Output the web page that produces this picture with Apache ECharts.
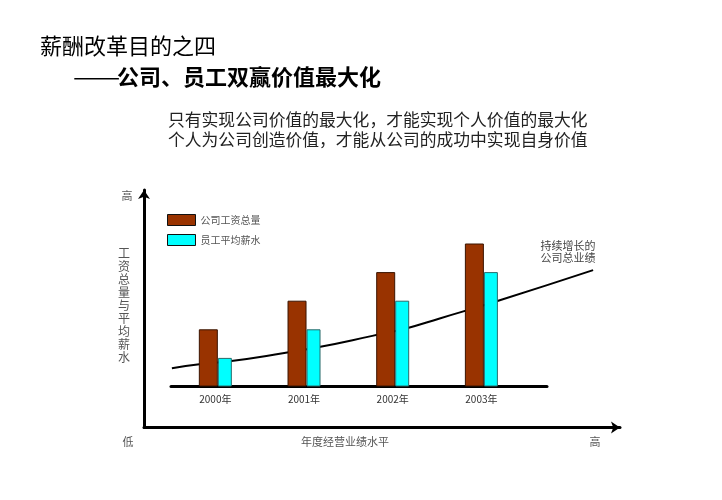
<!DOCTYPE html>
<html><head><meta charset="utf-8">
<script src="https://cdn.jsdelivr.net/npm/echarts@6/dist/echarts.min.js"></script>
<style>html,body{margin:0;padding:0;background:#fff}#c{width:722px;height:500px}</style>
</head><body><div id="c"></div>
<script>
// ---- data ----
const years = [2000, 2001, 2002, 2003];
const yearLabels = ['2000年', '2001年', '2002年', '2003年'];
const seriesNames = ['公司工资总量', '员工平均薪水'];
const totalPay = [2, 3, 4, 5];
const avgPay = [1, 2, 3, 4];
const perfX = [1999.51, 1999.82, 2000.18, 2000.76, 2001.14, 2001.77, 2002.15, 2002.53, 2003.19, 2004.26];
const perfY = [0.64, 0.78, 0.89, 1.16, 1.36, 1.77, 2.03, 2.38, 3.0, 4.07];

const FF = '"Noto Sans CJK SC", "Noto Sans", sans-serif';
const chart = echarts.init(document.getElementById('c'), null, {renderer: 'canvas'});

// inner plot: x 1999.5..2003.74 over 171..547 px, y 0..7 over 386.5..186.3 px
const PX_PER_YEAR = 376 / 4.24;
const PX_PER_UNIT = 200.2 / 7;
const outerXMin = 1999.5 - 27 / PX_PER_YEAR;
const outerXMax = 1999.5 + 449 / PX_PER_YEAR;
const outerYMin = -41 / PX_PER_UNIT;
const outerYMax = 196.5 / PX_PER_UNIT;

function txt(text, x, y, size, color, opts) {
  opts = opts || {};
  return {
    type: 'text', x: x, y: y, silent: true,
    scaleX: opts.scaleX || 1,
    style: {
      text: text, fill: color,
      font: (opts.weight || 'normal') + ' ' + size + 'px ' + FF,
      align: opts.align || 'left', verticalAlign: 'middle',
      lineHeight: opts.lineHeight
    }
  };
}

const option = {
  backgroundColor: '#fff',
  animation: false,
  legend: {
    orient: 'vertical', left: 167, top: 214, padding: 0,
    itemWidth: 28, itemHeight: 11, itemGap: 8, icon: 'rect',
    itemStyle: {borderColor: '#111', borderWidth: 1},
    textStyle: {fontSize: 10, color: '#555', fontFamily: FF},
    data: seriesNames
  },
  grid: [
    {left: 171, right: 175, top: 186.3, bottom: 113.5},
    {left: 144, right: 102, top: 190, bottom: 72.5}
  ],
  xAxis: [
    {gridIndex: 0, type: 'value', min: 1999.5, max: 2003.74,
      axisLine: {show: true, onZero: false, lineStyle: {color: '#000', width: 3}},
      axisTick: {show: false}, splitLine: {show: false},
      axisLabel: {customValues: years, formatter: v => yearLabels[years.indexOf(v)], fontSize: 10, color: '#333', margin: 8, fontFamily: FF}
    },
    {gridIndex: 1, type: 'value', min: outerXMin, max: outerXMax,
      axisLine: {show: true, onZero: false, symbol: ['none', 'arrow'], symbolSize: [9, 9], lineStyle: {color: '#000', width: 3}},
      axisTick: {show: false}, axisLabel: {show: false}, splitLine: {show: false}
    }
  ],
  yAxis: [
    {gridIndex: 0, type: 'value', min: 0, max: 7, show: false, splitLine: {show: false}},
    {gridIndex: 1, type: 'value', min: outerYMin, max: outerYMax,
      axisLine: {show: true, onZero: false, symbol: ['none', 'arrow'], symbolSize: [9, 9], lineStyle: {color: '#000', width: 3}},
      axisTick: {show: false}, axisLabel: {show: false}, splitLine: {show: false}
    }
  ],
  series: [
    {type: 'line', xAxisIndex: 1, yAxisIndex: 1, z: 1, silent: true,
      smooth: true, symbol: 'none', lineStyle: {color: '#000', width: 2},
      data: perfX.map((x, i) => [x, perfY[i]])},
    {type: 'bar', name: seriesNames[0], xAxisIndex: 0, yAxisIndex: 0, z: 3,
      barWidth: 19, barGap: '0%',
      itemStyle: {color: '#993300', borderColor: '#3a1400', borderWidth: 1},
      data: years.map((y, i) => [y, totalPay[i]])},
    {type: 'bar', name: seriesNames[1], xAxisIndex: 0, yAxisIndex: 0, z: 3,
      barWidth: 14, barGap: '0%',
      itemStyle: {color: '#00FFFF', borderColor: '#2a6a6a', borderWidth: 1},
      data: years.map((y, i) => [y, avgPay[i]])}
  ],
  graphic: [
    txt('薪酬改革目的之四', 40, 46, 22, '#000'),
    txt('——', 73, 77, 22, '#000', {scaleX: 1.28}),
    txt('公司、员工双赢价值最大化', 117, 77, 22, '#000', {weight: 'bold'}),
    txt('只有实现公司价值的最大化，才能实现个人价值的最大化', 168, 120, 16.8, '#222'),
    txt('个人为公司创造价值，才能从公司的成功中实现自身价值', 168, 140, 16.8, '#222'),
    txt('高', 127, 196, 11, '#555', {align: 'center'}),
    txt('工\n资\n总\n量\n与\n平\n均\n薪\n水', 124, 305.5, 12, '#555', {align: 'center', lineHeight: 13.1}),
    txt('低', 128, 441.5, 11, '#555', {align: 'center'}),
    txt('年度经营业绩水平', 345, 441.5, 11, '#555', {align: 'center'}),
    txt('高', 595, 441.5, 11, '#555', {align: 'center'}),
    txt('持续增长的\n公司总业绩', 568, 251.6, 11, '#444', {align: 'center', lineHeight: 12.3})
  ]
};
chart.setOption(option);
</script></body></html>
